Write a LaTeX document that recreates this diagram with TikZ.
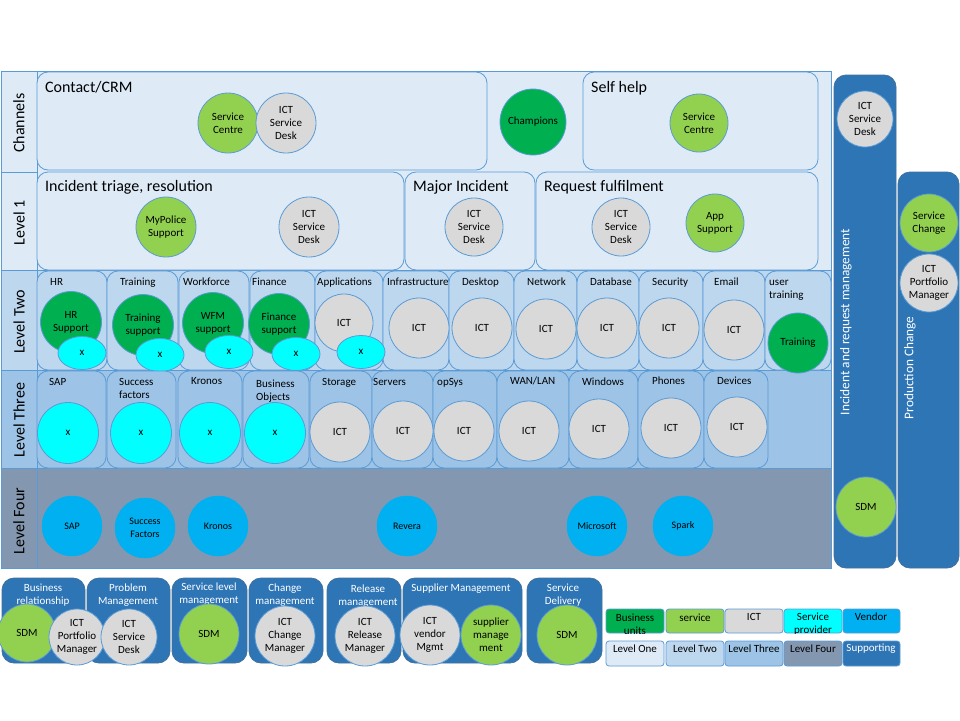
\documentclass[tikz,border=0pt]{standalone}
\usepackage{fontspec}
\setmainfont{Carlito}
\usetikzlibrary{shapes.geometric}
\definecolor{bord}{HTML}{5B9BD5}
\definecolor{lone}{HTML}{DEEBF7}
\definecolor{ltwo}{HTML}{BDD7EE}
\definecolor{lthree}{HTML}{9DC3E6}
\definecolor{lfour}{HTML}{8497B0}
\definecolor{supp}{HTML}{2E75B6}
\definecolor{suppd}{HTML}{41719C}
\definecolor{dgreen}{HTML}{00B050}
\definecolor{lgreen}{HTML}{92D050}
\definecolor{ictg}{HTML}{D9D9D9}
\definecolor{cyanx}{HTML}{00FFFF}
\definecolor{vendor}{HTML}{00B0F0}
\begin{document}
\begin{tikzpicture}[x=1pt,y=-1pt,
  frame/.style={draw=bord, line width=1pt},
  sub/.style={draw=bord, line width=0.8pt, rounded corners=11pt},
  supbox/.style={fill=supp, draw=suppd, line width=0.8pt, rounded corners=12pt},
  circ/.style={circle, draw=bord, line width=0.8pt, inner sep=0pt, align=center, font=\fontsize{11}{13}\selectfont, text=black},
  ictc/.style={circ, fill=ictg},
  lgc/.style={circ, fill=lgreen},
  dgc/.style={circ, fill=dgreen},
  cyc/.style={circ, fill=cyanx},
  xell/.style={ellipse, draw=bord, line width=0.8pt, fill=cyanx, inner sep=0pt, minimum width=48pt, minimum height=33pt, font=\fontsize{11}{13}\selectfont},
  vnd/.style={circle, fill=vendor, draw=vendor, inner sep=0pt, minimum size=60pt, align=center, font=\fontsize{10}{13}\selectfont},
  hd/.style={font=\fontsize{16}{19}\selectfont, anchor=base west, inner sep=0pt},
  sl/.style={font=\fontsize{11}{13}\selectfont, anchor=base west, inner sep=0pt},
  rowlab/.style={rotate=90, font=\fontsize{16}{19}\selectfont, inner sep=0pt},
  bartxt/.style={rotate=90, font=\fontsize{13.3}{16}\selectfont, text=white, inner sep=0pt},
  ttl/.style={font=\fontsize{11}{13}\selectfont, text=white, align=center, inner sep=0pt},
  legcell/.style={draw=bord, line width=0.8pt, rounded corners=3pt},
  legtxt/.style={font=\fontsize{11}{13}\selectfont, align=center, inner sep=0pt}
]
\useasboundingbox (0,0) rectangle (960,720);
\fill[white] (0,0) rectangle (960,720);

% ---- row backgrounds and label column
\draw[frame, fill=lone] (37,71) rectangle (831,270);
\draw[frame, fill=ltwo] (37,270) rectangle (831,370);
\draw[frame, fill=lthree] (37,370) rectangle (831,468);
\draw[frame, fill=lfour] (37,468) rectangle (831,568);
\draw[frame, fill=lone] (1,71) rectangle (37,172);
\draw[frame, fill=lone] (1,172) rectangle (37,270);
\draw[frame, fill=ltwo] (1,270) rectangle (37,370);
\draw[frame, fill=lthree] (1,370) rectangle (37,468);
\draw[frame, fill=lfour] (1,468) rectangle (37,568);
\node[rowlab] (rChan) at (19,123) {Channels};
\node[rowlab] (rL1) at (19,223) {Level 1};
\node[rowlab] (rL2) at (19,322) {Level Two};
\node[rowlab] (rL3) at (19,420) {Level Three};
\node[rowlab] (rL4) at (19,521) {Level Four};

% ---- Channels
\draw[sub, fill=lone] (37,72) rectangle (487,170);
\node[hd] (tcrm) at (45,92) {Contact/CRM};
\node[lgc, minimum size=60pt] (cc1) at (228,123) {Service\\Centre};
\node[ictc, minimum size=60pt] (cc2) at (286,123) {ICT\\Service\\Desk};
\node[dgc, minimum size=66pt] (champ) at (533,122) {Champions};
\draw[sub, fill=lone] (583,72) rectangle (818,170);
\node[hd] (tself) at (591,92) {Self help};
\node[lgc, minimum size=58pt] (cs1) at (699,123) {Service\\Centre};

% ---- Level 1
\draw[sub, fill=lone] (37,172) rectangle (404,270);
\node[hd] (tinc) at (45,191) {Incident triage, resolution};
\node[lgc, minimum size=60pt] (mp) at (166,227) {MyPolice\\Support};
\node[ictc, minimum size=60pt] (l1a) at (309,227) {ICT\\Service\\Desk};
\draw[sub, fill=lone] (405,172) rectangle (535,270);
\node[hd] (tmaj) at (413,191) {Major Incident};
\node[ictc, minimum size=58pt] (l1b) at (474,227) {ICT\\Service\\Desk};
\draw[sub, fill=lone] (536,172) rectangle (818,270);
\node[hd] (treq) at (544,191) {Request fulfilment};
\node[ictc, minimum size=58pt] (l1c) at (621,227) {ICT\\Service\\Desk};
\node[lgc, minimum size=58pt] (app) at (715,223) {App\\Support};

% ---- Level Two
\foreach \a/\b/\t/\lx/\nm in {37/107/HR/50/bHR, 107/178/Training/120/bTr, 179/249/Workforce/183/bWf, 250/315/Finance/252/bFi, 315/383/Applications/317/bAp, 383/449/Infrastructure/387/bIn, 449/514/Desktop/462/bDe, 514/577/Network/527/bNe, 577/639/Database/590/bDb, 639/703/Security/652/bSe, 703/765/Email/714/bEm}{
  \draw[sub, fill=ltwo] (\a,271) rectangle (\b,370);
  \node[sl] (\nm) at (\lx,285) {\t};
}
\draw[sub, fill=ltwo] (765,271) rectangle (831,370);
\node[sl] (but1) at (769,285) {user};
\node[sl] (but2) at (769,298) {training};

\node[dgc, minimum size=61pt] (hrs) at (71,322) {HR\\Support};
\node[xell] (x1) at (82,353) {x};
\node[dgc, minimum size=61pt] (trs) at (143,325) {Training\\support};
\node[xell] (x2) at (160,355) {x};
\node[dgc, minimum size=61pt] (wfs) at (213,323) {WFM\\support};
\node[xell] (x3) at (229,352) {x};
\node[dgc, minimum size=61pt] (fis) at (279,324) {Finance\\support};
\node[xell] (x4) at (296,354) {x};
\node[ictc, minimum size=58pt] (apc) at (344,323) {ICT};
\node[xell] (x5) at (361,352) {x};
\node[ictc, minimum size=60pt] (inc) at (419,328) {ICT};
\node[ictc, minimum size=60pt] (dec) at (482,328) {ICT};
\node[ictc, minimum size=60pt] (nec) at (546,329) {ICT};
\node[ictc, minimum size=60pt] (dbc) at (607,328) {ICT};
\node[ictc, minimum size=60pt] (sec) at (669,328) {ICT};
\node[ictc, minimum size=60pt] (emc) at (734,330) {ICT};
\node[dgc, minimum size=60pt] (utc) at (798,343) {Training};

% ---- Level Three
\foreach \a/\b/\nm in {37/106/cSAP, 107/176/cSF, 178/242/cKr, 243/309/cBO, 310/372/cSt, 372/433/cSv, 433/497/cOS, 497/569/cWL, 569/638/cWi, 638/704/cPh, 704/768/cDv}{
  \draw[sub, fill=lthree] (\a,371) rectangle (\b,468);
}
\node[sl] (tSAP) at (49,385) {SAP};
\node[sl] (tSF1) at (119,385) {Success};
\node[sl] (tSF2) at (119,398) {factors};
\node[sl] (tKr) at (191,384) {Kronos};
\node[sl] (tBO1) at (256,387) {Business};
\node[sl] (tBO2) at (256,400) {Objects};
\node[sl] (tSt) at (322,385) {Storage};
\node[sl] (tSv) at (373,385) {Servers};
\node[sl] (tOS) at (437,385) {opSys};
\node[sl] (tWL) at (510,384) {WAN/LAN};
\node[sl] (tWi) at (582,385) {Windows};
\node[sl] (tPh) at (652,384) {Phones};
\node[sl] (tDv) at (717,384) {Devices};

\node[cyc, minimum size=61pt] (y1) at (68,433) {x};
\node[cyc, minimum size=61pt] (y2) at (141,433) {x};
\node[cyc, minimum size=61pt] (y3) at (210,433) {x};
\node[cyc, minimum size=61pt] (y4) at (275,433) {x};
\node[ictc, minimum size=60pt] (z1) at (340,432) {ICT};
\node[ictc, minimum size=60pt] (z2) at (403,431) {ICT};
\node[ictc, minimum size=60pt] (z3) at (464,431) {ICT};
\node[ictc, minimum size=60pt] (z4) at (529,431) {ICT};
\node[ictc, minimum size=60pt] (z5) at (599,429) {ICT};
\node[ictc, minimum size=60pt] (z6) at (671,428) {ICT};
\node[ictc, minimum size=60pt] (z7) at (737,427) {ICT};

% ---- Level Four
\node[vnd] (vSAP) at (72,526) {SAP};
\node[vnd] (vSF) at (145,528) {Success\\Factors};
\node[vnd] (vKr) at (218,526) {Kronos};
\node[vnd] (vRe) at (407,526) {Revera};
\node[vnd] (vMs) at (597,526) {Microsoft};
\node[vnd] (vSp) at (683,526) {Spark};

% ---- right bars
\draw[supbox] (834,75) rectangle (896,568);
\node[ictc, minimum size=56pt] (rb1) at (865,119) {ICT\\Service\\Desk};
\node[lgc, minimum size=60pt] (rb2) at (866,507) {SDM};
\node[bartxt] (rbt) at (846,322) {Incident and request management};
\draw[supbox] (898,172) rectangle (959,568);
\node[lgc, minimum size=58pt] (pc1) at (929,223) {Service\\Change};
\node[ictc, minimum size=58pt] (pc2) at (929,283) {ICT\\Portfolio\\Manager};
\node[bartxt] (pct) at (910,368) {Production Change};

% ---- bottom boxes
\draw[supbox] (2,578) rectangle (85,663);
\node[ttl] (tBR) at (43,595) {Business\\relationship};
\draw[supbox] (87,578) rectangle (170,663);
\node[ttl] (tPM) at (128,595) {Problem\\Management};
\node[lgc, minimum size=58pt] (bSDM1) at (27,633) {SDM};
\node[ictc, minimum size=56pt] (bPort) at (77,637) {ICT\\Portfolio\\Manager};
\node[ictc, minimum size=56pt] (bSD) at (129,637) {ICT\\Service\\Desk};

\draw[supbox] (172,578) rectangle (247,663);
\node[ttl] (tSL) at (209,594) {Service level\\management};
\node[lgc, minimum size=60pt] (bSDM2) at (209,634) {SDM};

\draw[supbox] (249,578) rectangle (323,663);
\node[ttl] (tCM) at (285,595) {Change\\management};
\node[ictc, minimum size=60pt] (bCM) at (285,636) {ICT\\Change\\Manager};

\draw[supbox] (327,578) rectangle (401,663);
\node[ttl] (tRM) at (368,596) {Release\\management};
\node[ictc, minimum size=60pt] (bRM) at (365,636) {ICT\\Release\\Manager};

\draw[supbox] (403,578) rectangle (522,663);
\node[ttl] (tSM) at (461,589) {Supplier Management};
\node[ictc, minimum size=60pt] (bVM) at (430,635) {ICT\\vendor\\Mgmt};
\node[lgc, minimum size=60pt] (bSMg) at (491,635) {supplier\\manage\\ment};

\draw[supbox] (527,578) rectangle (602,663);
\node[ttl] (tSD) at (563,595) {Service\\Delivery};
\node[lgc, minimum size=60pt] (bSDM3) at (567,635) {SDM};

% ---- legend
\draw[legcell, fill=dgreen] (606,609) rectangle (664,633);
\begin{scope}
\clip (606,609) rectangle (664,633);
\node[legtxt] (lgBU) at (635,624.5) {Business\\units};
\end{scope}
\draw[legcell, fill=lgreen] (666,609) rectangle (724,633);
\node[legtxt] (lgSv) at (695,618) {service};
\draw[legcell, fill=ictg] (725,609) rectangle (783,633);
\node[legtxt] (lgICT) at (754,617) {ICT};
\draw[legcell, fill=cyanx] (784,609) rectangle (842,633);
\begin{scope}
\clip (784,609) rectangle (842,633);
\node[legtxt] (lgSP) at (813,624.5) {Service\\provider};
\end{scope}
\draw[legcell, fill=vendor] (843,609) rectangle (900,633);
\node[legtxt] (lgV) at (871,617) {Vendor};

\draw[legcell, fill=lone] (606,641) rectangle (664,666);
\node[legtxt] (lgL1) at (635,649) {Level One};
\draw[legcell, fill=ltwo] (666,641) rectangle (724,666);
\node[legtxt] (lgL2) at (695,649) {Level Two};
\draw[legcell, fill=lthree] (725,641) rectangle (783,666);
\node[legtxt] (lgL3) at (754,649) {Level Three};
\draw[legcell, fill=lfour] (784,641) rectangle (842,666);
\node[legtxt] (lgL4) at (813,649) {Level Four};
\draw[legcell, fill=supp] (843,641) rectangle (900,666);
\node[legtxt, text=white] (lgS) at (871,649) {Supporting};
\end{tikzpicture}
\end{document}
